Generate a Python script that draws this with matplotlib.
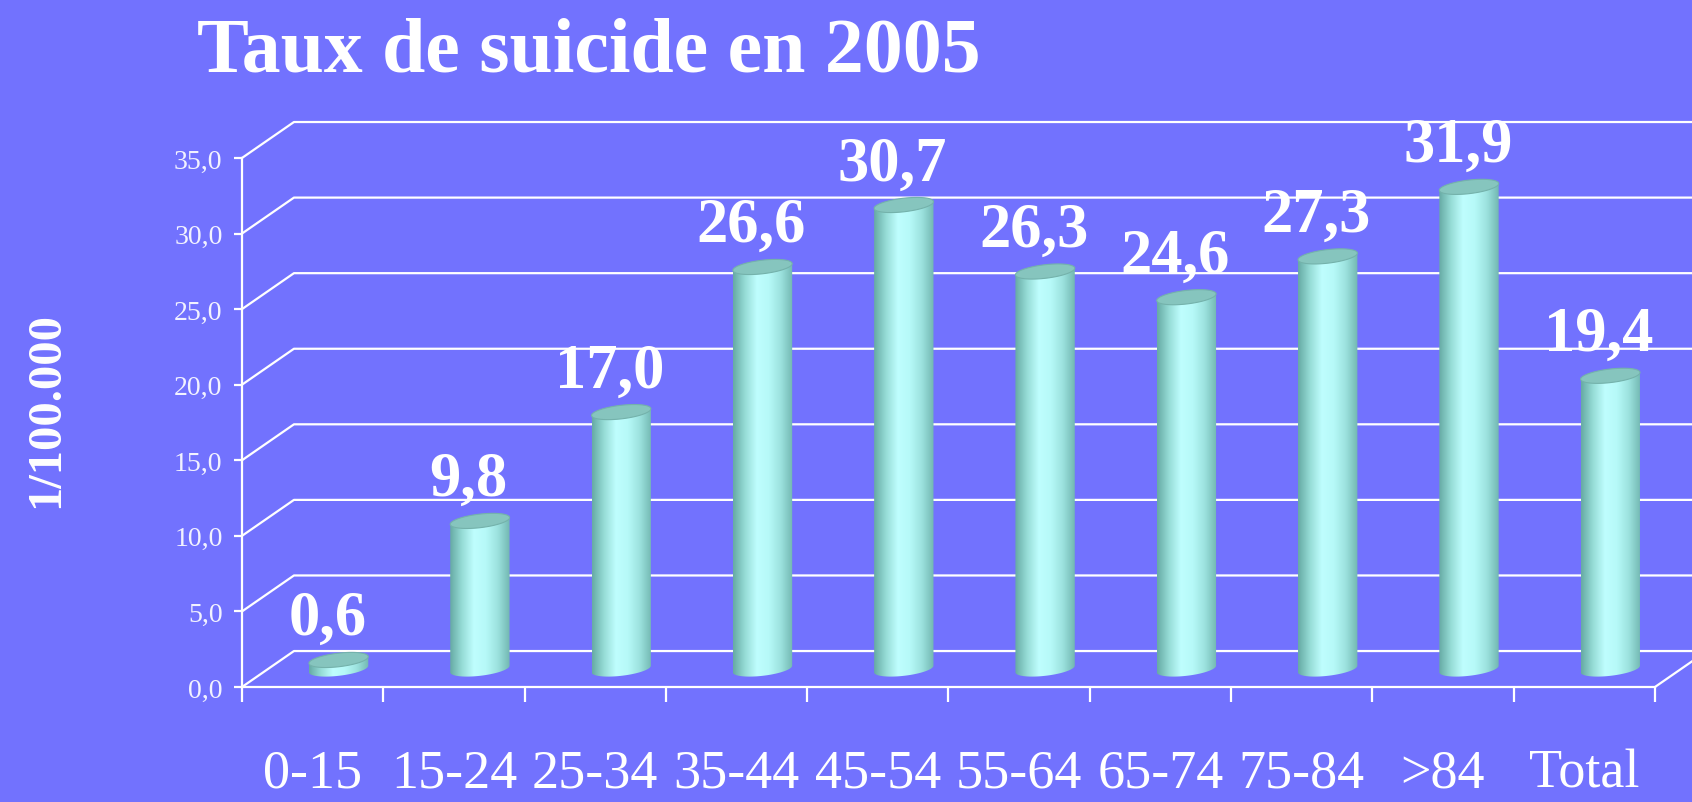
import matplotlib
matplotlib.use('Agg')
import matplotlib.pyplot as plt
import numpy as np
from matplotlib.path import Path
from matplotlib.patches import PathPatch, Polygon
from matplotlib.colors import LinearSegmentedColormap

# Données
categories = ['0-15', '15-24', '25-34', '35-44', '45-54', '55-64', '65-74', '75-84', '>84', 'Total']
taux = [0.6, 9.8, 17.0, 26.6, 30.7, 26.3, 24.6, 27.3, 31.9, 19.4]
yticks = [0, 5, 10, 15, 20, 25, 30, 35]

bg = '#7272FE'
plt.rcParams['font.family'] = ['Liberation Serif', 'DejaVu Serif']

fig = plt.figure(figsize=(16.92, 8.03), dpi=100, facecolor=bg)
ax = fig.add_axes([0.1430, 0.1432, 0.8351, 0.6588])
ax.set_facecolor('none')

# décalage de profondeur (pseudo-3D)
dx, dy = 0.368, 2.38
n = len(categories)

# murs : lignes de grille
for v in yticks:
    ax.plot([0, dx, n + dx + 1], [v, v + dy, v + dy], color='white', lw=1.6,
            zorder=1, clip_on=False, solid_capstyle='butt')
ax.plot([n, n + dx], [0, dy], color='white', lw=1.6, zorder=1, clip_on=False)

# cylindres
cmap = LinearSegmentedColormap.from_list('cyl', ['#66AAA4', '#96DCD6', '#BFFEFE', '#B6F9F8', '#9CE2DE', '#72B7B1'])
grad = cmap(np.linspace(0, 1, 256))[None, :, :]
w = 0.21          # demi-largeur
b = 0.45          # demi-hauteur de l'ellipse
s = 0.22          # inclinaison
t = np.linspace(np.pi, 2 * np.pi, 60)
tt = np.linspace(0, 2 * np.pi, 120)
for i, v in enumerate(taux):
    cx = i + 0.5 + dx / 2
    base = dy / 2
    top = base + v
    bx = cx + w * np.cos(t)
    by = base + b * np.sin(t) + s * np.cos(t)
    xs = np.concatenate([[cx - w], bx, [cx + w, cx - w]])
    ys = np.concatenate([[top - s], by, [top + s, top - s]])
    body = PathPatch(Path(np.column_stack([xs, ys])), facecolor='none', edgecolor='none', zorder=3)
    ax.add_patch(body)
    im = ax.imshow(grad, extent=[cx - w, cx + w, base - b - s, top + s], aspect='auto',
                   interpolation='bicubic', zorder=3)
    im.set_clip_path(body)
    ex = cx + w * np.cos(tt)
    ey = top + b * np.sin(tt) + s * np.cos(tt)
    ax.add_patch(Polygon(np.column_stack([ex, ey]), closed=True, facecolor='#86C5BE',
                         edgecolor='#74B2AB', lw=0.8, zorder=4))
    ax.text(cx - 0.08, top + 1.7, f'{v:.1f}'.replace('.', ','), ha='center', va='baseline',
            fontsize=45, fontweight='bold', color='white', zorder=5)

ax.set_xlim(0, n)
ax.set_ylim(0, 35)

# axes
for side in ['top', 'right']:
    ax.spines[side].set_visible(False)
for side in ['left', 'bottom']:
    ax.spines[side].set_color('white')
    ax.spines[side].set_linewidth(1.6)
ax.set_yticks(yticks)
ax.set_yticklabels([f'{v:.1f}'.replace('.', ',') for v in yticks])
ax.tick_params(axis='y', colors='white', labelcolor='#F2F2FF', length=6, width=1.6,
               labelsize=20, pad=8)
ax.set_xticks(np.arange(n) + 0.5)
ax.set_xticklabels(categories)
ax.set_xticks(np.arange(n + 1), minor=True)
ax.tick_params(axis='x', which='major', length=0, labelsize=39, labelcolor='white', pad=44)
ax.tick_params(axis='x', which='minor', length=11, width=1.6, color='white')

fig.text(0.1164, 0.911, 'Taux de suicide en 2005', ha='left', va='baseline',
         fontsize=56, fontweight='bold', color='white')
fig.text(0.027, 0.489, '1/100.000', rotation=90, ha='center', va='center',
         fontsize=35, fontweight='bold', color='white')

fig.savefig('out.png', dpi=100, facecolor=bg)
